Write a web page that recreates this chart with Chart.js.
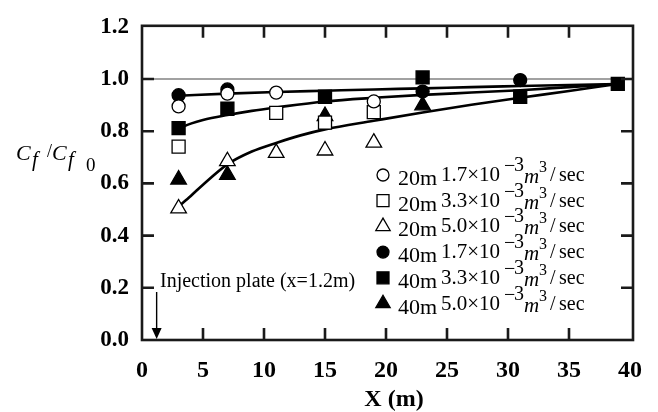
<!DOCTYPE html>
<html>
<head>
<meta charset="utf-8">
<script src="https://cdn.jsdelivr.net/npm/chart.js@4.4.1/dist/chart.umd.min.js"></script>
<style>
  html, body { margin: 0; padding: 0; background: #ffffff; }
  #wrap { width: 658px; height: 412px; }
</style>
</head>
<body>
<div id="wrap"><canvas id="chart" width="658" height="412"></canvas></div>
<script>
// Axis ticks
const xTickValues = [0, 5, 10, 15, 20, 25, 30, 35, 40];
const xTickLabels = ['0', '5', '10', '15', '20', '25', '30', '35', '40'];
const yTickValues = [0, 0.2, 0.4, 0.6, 0.8, 1.0, 1.2];
const yTickLabels = ['0.0', '0.2', '0.4', '0.6', '0.8', '1.0', '1.2'];

// Measured friction ratio Cf/Cf0 at stations X (m)
const x20m17 = [3, 7, 11, 19];
const cf20m17 = [0.895, 0.944, 0.948, 0.914];
const x20m33 = [3, 11, 15, 19];
const cf20m33 = [0.741, 0.870, 0.833, 0.873];
const x20m50 = [3, 7, 11, 15, 19];
const cf20m50 = [0.504, 0.685, 0.717, 0.726, 0.756];
const x40m17 = [3, 7, 23, 31];
const cf40m17 = [0.938, 0.960, 0.952, 0.996];
const x40m33 = [3, 7, 15, 23, 31, 39];
const cf40m33 = [0.812, 0.886, 0.932, 1.006, 0.932, 0.981];
const x40m50 = [3, 7, 15, 23];
const cf40m50 = [0.615, 0.633, 0.858, 0.899];

// Fitted trend curves
const upperCurveX = [3, 7, 11, 15, 19, 23, 27, 31, 35, 39];
const upperCurveY = [0.936, 0.944, 0.950, 0.955, 0.960, 0.964, 0.969, 0.973, 0.977, 0.981];
const middleCurveX = [3, 4, 5, 7, 9, 11, 15, 19, 23, 27, 31, 35, 39];
const middleCurveY = [0.810, 0.829, 0.843, 0.862, 0.878, 0.891, 0.914, 0.928, 0.939, 0.948, 0.957, 0.969, 0.981];
const lowerCurveX = [3, 4, 5, 7, 9, 11, 13, 15, 19, 23, 27, 31, 35, 39];
const lowerCurveY = [0.512, 0.552, 0.595, 0.673, 0.722, 0.755, 0.784, 0.807, 0.840, 0.872, 0.901, 0.928, 0.954, 0.981];

// Reference level and injection plate location
const referenceLevel = 1.0;
const injectionX = 1.2;
const injectionLabel = 'Injection plate (x=1.2m)';

// Legend entries
const legendLengths = ['20m', '20m', '20m', '40m', '40m', '40m'];
const legendRates = ['1.7', '3.3', '5.0', '1.7', '3.3', '5.0'];

const pts = (xs, ys) => xs.map((v, i) => ({ x: v, y: ys[i] }));
const SERIF = "'Liberation Serif', 'Times New Roman', serif";

const markerStyles = [
  { pointStyle: 'circle', radius: 6.5, filled: false },
  { pointStyle: 'rect', radius: 9.2, filled: false },
  { pointStyle: 'triangle', radius: 9, filled: false },
  { pointStyle: 'circle', radius: 6.5, filled: true },
  { pointStyle: 'rect', radius: 9.2, filled: true },
  { pointStyle: 'triangle', radius: 9, filled: true }
];

function markerSet(data, m, order) {
  return {
    data,
    showLine: false,
    order,
    pointStyle: m.pointStyle,
    pointRadius: m.radius,
    pointHoverRadius: m.radius,
    pointBackgroundColor: m.filled ? '#000000' : '#ffffff',
    pointBorderColor: '#000000',
    pointBorderWidth: 1.3
  };
}

function curveSet(data) {
  return {
    data,
    showLine: true,
    order: 10,
    borderColor: '#000000',
    borderWidth: 2.6,
    pointRadius: 0,
    pointHoverRadius: 0,
    tension: 0.4,
    cubicInterpolationMode: 'monotone',
    fill: false
  };
}

const decorations = {
  id: 'decorations',
  beforeDatasetsDraw(chart) {
    const { ctx, chartArea: a, scales: { y } } = chart;
    ctx.save();
    ctx.strokeStyle = '#444444';
    ctx.lineWidth = 1.2;
    const yr = y.getPixelForValue(referenceLevel);
    ctx.beginPath();
    ctx.moveTo(a.left, yr);
    ctx.lineTo(a.right + 3, yr);
    ctx.stroke();
    ctx.restore();
  },
  afterDatasetsDraw(chart) {
    const { ctx, chartArea: a, scales: { x, y } } = chart;
    const right = a.right + 3;
    const top = a.top - 1;
    ctx.save();

    // plot frame
    ctx.strokeStyle = '#1a1a1a';
    ctx.lineWidth = 2.6;
    ctx.strokeRect(a.left, top, right - a.left, a.bottom - top);

    // inward ticks on all four sides
    const tl = 12;
    ctx.beginPath();
    xTickValues.slice(1, -1).forEach(v => {
      const px = x.getPixelForValue(v);
      ctx.moveTo(px, a.bottom); ctx.lineTo(px, a.bottom - tl);
      ctx.moveTo(px, top); ctx.lineTo(px, top + tl);
    });
    yTickValues.slice(1, -1).forEach(v => {
      const py = y.getPixelForValue(v);
      ctx.moveTo(a.left, py); ctx.lineTo(a.left + tl, py);
      ctx.moveTo(right, py); ctx.lineTo(right - tl, py);
    });
    ctx.stroke();

    // injection plate arrow
    const ax = x.getPixelForValue(injectionX);
    ctx.strokeStyle = '#000000';
    ctx.fillStyle = '#000000';
    ctx.lineWidth = 1.4;
    ctx.beginPath();
    ctx.moveTo(ax, 292);
    ctx.lineTo(ax, a.bottom - 10);
    ctx.stroke();
    ctx.beginPath();
    ctx.moveTo(ax - 5, a.bottom - 12);
    ctx.lineTo(ax + 5, a.bottom - 12);
    ctx.lineTo(ax, a.bottom - 1);
    ctx.closePath();
    ctx.fill();

    ctx.font = '20px ' + SERIF;
    ctx.textAlign = 'left';
    ctx.textBaseline = 'alphabetic';
    ctx.fillText(injectionLabel, 160, 287);

    // legend
    const lx = 383, ly0 = 175, step = 25.7;
    legendLengths.forEach((len, i) => {
      const ry = ly0 + i * step;
      const m = markerStyles[i];
      ctx.fillStyle = m.filled ? '#000000' : '#ffffff';
      ctx.strokeStyle = '#000000';
      ctx.lineWidth = 1.3;
      Chart.helpers.drawPoint(ctx, {
        pointStyle: m.pointStyle,
        radius: m.radius * 0.92,
        rotation: 0,
        borderWidth: 1.3
      }, lx, ry);

      ctx.fillStyle = '#000000';
      ctx.font = '22px ' + SERIF;
      ctx.fillText(len, lx + 15, ry + 10);

      ctx.font = '21px ' + SERIF;
      ctx.fillText(legendRates[i] + '\u00d710', lx + 58, ry + 6);
      ctx.font = '20px ' + SERIF;
      ctx.fillText('\u2212', lx + 121, ry - 3);
      ctx.fillText('3', lx + 131, ry - 4);
      ctx.font = 'italic 21px ' + SERIF;
      ctx.fillText('m', lx + 141, ry + 8);
      ctx.font = '16px ' + SERIF;
      ctx.fillText('3', lx + 156, ry - 3);
      ctx.font = '20px ' + SERIF;
      ctx.fillText('/', lx + 167, ry + 6);
      ctx.fillText('sec', lx + 176, ry + 6);
    });

    // x axis title
    ctx.font = 'bold 24px ' + SERIF;
    ctx.textAlign = 'center';
    ctx.textBaseline = 'middle';
    ctx.fillText('X (m)', (a.left + a.right) / 2 + 8, 400);

    // y axis title: Cf / Cf0
    ctx.textAlign = 'left';
    ctx.textBaseline = 'alphabetic';
    ctx.font = 'italic 22px ' + SERIF;
    ctx.fillText('C', 16, 160);
    ctx.font = 'italic 21px ' + SERIF;
    ctx.fillText('f', 32, 166);
    ctx.font = '18px ' + SERIF;
    ctx.fillText('/', 47, 157);
    ctx.font = 'italic 22px ' + SERIF;
    ctx.fillText('C', 52, 160);
    ctx.font = 'italic 21px ' + SERIF;
    ctx.fillText('f', 68, 166);
    ctx.font = '19px ' + SERIF;
    ctx.fillText('0', 86, 171);

    ctx.restore();
  }
};

new Chart(document.getElementById('chart'), {
  type: 'scatter',
  data: {
    datasets: [
      curveSet(pts(upperCurveX, upperCurveY)),
      curveSet(pts(middleCurveX, middleCurveY)),
      curveSet(pts(lowerCurveX, lowerCurveY)),
      markerSet(pts(x40m17, cf40m17), markerStyles[3], 6),
      markerSet(pts(x40m33, cf40m33), markerStyles[4], 5),
      markerSet(pts(x40m50, cf40m50), markerStyles[5], 4),
      markerSet(pts(x20m50, cf20m50), markerStyles[2], 3),
      markerSet(pts(x20m33, cf20m33), markerStyles[1], 2),
      markerSet(pts(x20m17, cf20m17), markerStyles[0], 1)
    ]
  },
  options: {
    responsive: false,
    devicePixelRatio: 1,
    animation: false,
    events: [],
    layout: { padding: { left: 0, right: 28, top: 16, bottom: 0 } },
    plugins: { legend: { display: false }, tooltip: { enabled: false } },
    scales: {
      x: {
        type: 'linear',
        min: 0, max: 40,
        grid: { display: false, drawTicks: false },
        border: { display: false },
        afterFit: s => { s.height = 72; },
        afterBuildTicks: s => { s.ticks = xTickValues.map(v => ({ value: v })); },
        ticks: {
          padding: 16,
          color: '#000000',
          font: { family: SERIF, size: 24, weight: 'bold' },
          callback: (v) => xTickLabels[xTickValues.indexOf(v)]
        }
      },
      y: {
        type: 'linear',
        min: 0, max: 1.2,
        grid: { display: false, drawTicks: false },
        border: { display: false },
        afterFit: s => { s.width = 142; },
        afterBuildTicks: s => { s.ticks = yTickValues.map(v => ({ value: v })); },
        ticks: {
          padding: 13,
          color: '#000000',
          font: { family: SERIF, size: 23, weight: 'bold' },
          callback: (v) => yTickLabels[yTickValues.findIndex(t => Math.abs(t - v) < 1e-9)]
        }
      }
    }
  },
  plugins: [decorations]
});
</script>
</body>
</html>
